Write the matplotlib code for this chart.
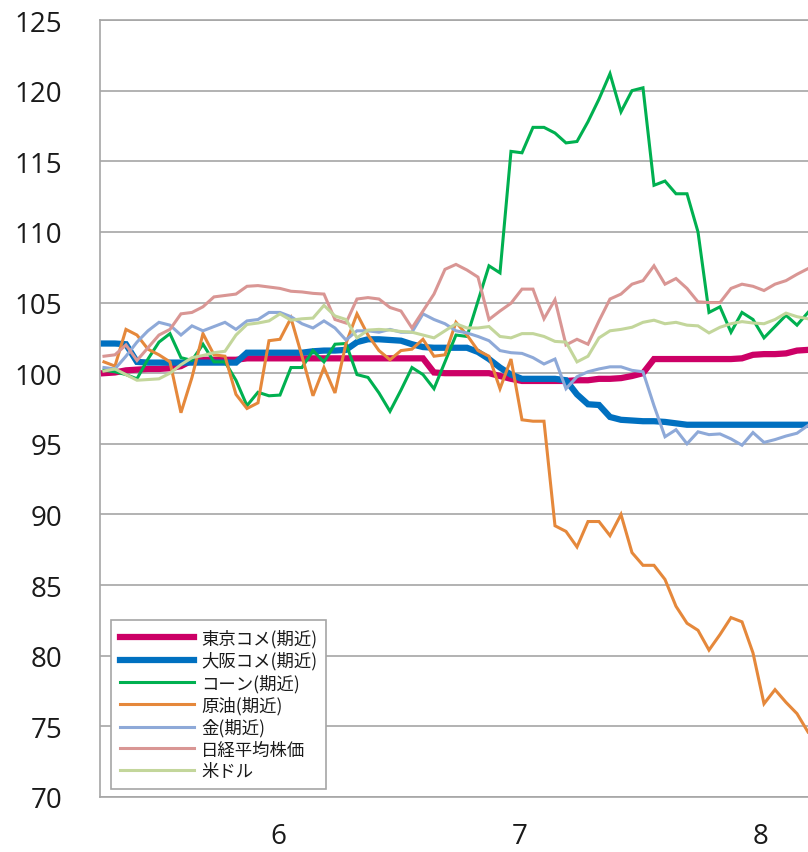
import numpy as np
import matplotlib
matplotlib.use("Agg")
import matplotlib.pyplot as plt

# index values (start = 100), one point per trading day
tokyo_rice = [100.0, 100.05, 100.2, 100.25, 100.3, 100.3, 100.35, 100.5, 100.9, 100.95,
              100.95, 100.95, 100.95, 101.05, 101.05, 101.05, 101.05, 101.05, 101.05, 101.05,
              101.05, 101.05, 101.05, 101.05, 101.05, 101.05, 101.05, 101.05, 101.05, 101.05,
              100.05, 100.0, 100.0, 100.0, 100.0, 100.0, 99.8, 99.6, 99.45, 99.45,
              99.45, 99.45, 99.45, 99.5, 99.5, 99.6, 99.6, 99.65, 99.8, 100.0,
              101.0, 101.0, 101.0, 101.0, 101.0, 101.0, 101.0, 101.0, 101.05, 101.3,
              101.35, 101.35, 101.4, 101.6, 101.65]
osaka_rice = [102.1, 102.1, 102.05, 100.8, 100.75, 100.75, 100.75, 100.75, 100.75, 100.75,
              100.75, 100.75, 100.75, 101.45, 101.45, 101.45, 101.45, 101.45, 101.45, 101.55,
              101.6, 101.6, 101.65, 102.2, 102.4, 102.4, 102.35, 102.3, 102.05, 101.85,
              101.8, 101.8, 101.8, 101.8, 101.5, 101.0, 100.4, 99.9, 99.6, 99.6,
              99.6, 99.6, 99.5, 98.5, 97.8, 97.75, 96.9, 96.7, 96.65, 96.6,
              96.6, 96.55, 96.45, 96.35, 96.35, 96.35, 96.35, 96.35, 96.35, 96.35,
              96.35, 96.35, 96.35, 96.35, 96.35]
corn = [100.2, 100.1, 99.9, 99.6, 101.0, 102.2, 102.8, 101.1, 100.9, 102.05,
        100.8, 100.8, 99.5, 97.7, 98.65, 98.4, 98.45, 100.4, 100.4, 101.6,
        100.8, 102.05, 102.1, 99.9, 99.7, 98.6, 97.3, 98.8, 100.4, 99.9,
        98.9, 100.8, 102.7, 102.6, 105.1, 107.6, 107.1, 115.7, 115.6, 117.4,
        117.4, 117.0, 116.3, 116.4, 117.8, 119.4, 121.2, 118.5, 120.0, 120.2,
        113.3, 113.6, 112.7, 112.7, 110.0, 104.3, 104.7, 102.9, 104.3, 103.8,
        102.5, 103.3, 104.1, 103.4, 104.3]
crude_oil = [100.8, 100.5, 103.1, 102.7, 101.7, 101.3, 100.8, 97.2, 99.7, 102.8,
             101.3, 101.2, 98.5, 97.5, 97.9, 102.3, 102.4, 103.9, 101.2, 98.4,
             100.4, 98.6, 102.1, 104.2, 102.7, 101.6, 100.95, 101.6, 101.7, 102.4,
             101.2, 101.3, 103.6, 102.7, 101.6, 101.2, 98.9, 101.0, 96.7, 96.6,
             96.6, 89.2, 88.8, 87.7, 89.5, 89.5, 88.5, 90.0, 87.3, 86.4,
             86.4, 85.4, 83.5, 82.3, 81.8, 80.4, 81.5, 82.7, 82.4, 80.2,
             76.6, 77.6, 76.7, 75.9, 74.6]
gold = [100.4, 100.3, 101.2, 102.2, 103.0, 103.6, 103.4, 102.7, 103.35, 103.0,
        103.3, 103.6, 103.1, 103.7, 103.8, 104.3, 104.3, 104.0, 103.5, 103.2,
        103.7, 103.2, 102.35, 103.0, 103.0, 102.9, 103.1, 102.9, 102.9, 104.2,
        103.8, 103.5, 103.0, 102.85, 102.6, 102.3, 101.6, 101.45, 101.4, 101.1,
        100.65, 101.0, 98.9, 99.75, 100.1, 100.3, 100.45, 100.45, 100.2, 100.1,
        97.7, 95.5, 96.0, 95.0, 95.85, 95.65, 95.7, 95.35, 94.9, 95.8,
        95.1, 95.3, 95.55, 95.75, 96.3]
nikkei = [101.2, 101.3, 102.0, 100.9, 101.8, 102.7, 103.1, 104.2, 104.3, 104.7,
          105.4, 105.5, 105.6, 106.15, 106.2, 106.1, 106.0, 105.8, 105.75, 105.65,
          105.6, 103.8, 103.55, 105.25, 105.35, 105.25, 104.65, 104.4, 103.2, 104.4,
          105.6, 107.35, 107.7, 107.3, 106.8, 103.8, 104.4, 104.95, 105.95, 105.95,
          103.85, 105.2, 102.0, 102.4, 102.05, 103.7, 105.25, 105.6, 106.3, 106.55,
          107.6, 106.3, 106.7, 106.0, 105.05, 105.0, 105.0, 106.0, 106.3, 106.15,
          105.85, 106.3, 106.55, 107.0, 107.4]
usd = [100.15, 100.3, 99.9, 99.5, 99.55, 99.6, 100.0, 100.6, 101.1, 101.25,
       101.45, 101.55, 102.7, 103.45, 103.55, 103.7, 104.2, 103.75, 103.85, 103.9,
       104.8, 104.05, 103.8, 102.5, 103.05, 103.1, 103.05, 102.95, 102.9, 102.7,
       102.5, 103.0, 103.5, 103.2, 103.2, 103.3, 102.6, 102.5, 102.8, 102.8,
       102.6, 102.25, 102.2, 100.8, 101.2, 102.5, 103.0, 103.1, 103.25, 103.6,
       103.75, 103.5, 103.6, 103.4, 103.35, 102.85, 103.25, 103.5, 103.65, 103.55,
       103.5, 103.8, 104.25, 104.0, 103.85]

labels = ['東京コメ(期近)', '大阪コメ(期近)', 'コーン(期近)', '原油(期近)',
          '金(期近)', '日経平均株価', '米ドル']
colors = ['#CC0066', '#0070C0', '#00B050', '#E5883B', '#8EA9D8', '#D99694', '#C3D69B']
widths = [4.5, 4.5, 2.2, 2.2, 2.2, 2.2, 2.2]

month_labels = ['6', '7', '8']
month_pos = [15.9, 37.8, 59.7]

series = [tokyo_rice, osaka_rice, corn, crude_oil, gold, nikkei, usd]

fig = plt.figure(figsize=(8.08, 8.53), dpi=100)
ax = fig.add_axes([100 / 808, 1 - 798 / 853, 708 / 808, 777 / 853])

for k, vals in enumerate(series):
    x = np.arange(len(vals))
    ax.plot(x, vals, color=colors[k], lw=widths[k], label=labels[k],
            solid_joinstyle='miter', zorder=3 + k)

ax.set_xlim(-0.36, 64.0)
ax.set_ylim(70, 125)
ax.set_yticks(np.arange(70, 126, 5))
ax.set_xticks(month_pos)
ax.set_xticklabels(month_labels)

grid_col = '#A6A6A6'
ax.yaxis.grid(True, color=grid_col, lw=1.2)
ax.set_axisbelow(True)
ax.spines['right'].set_visible(False)
for s in ['left', 'bottom', 'top']:
    ax.spines[s].set_color(grid_col)
    ax.spines[s].set_linewidth(1.2)

ax.tick_params(axis='both', length=0, labelsize=20, labelcolor='#1a1a1a')
ax.tick_params(axis='y', pad=27)
ax.tick_params(axis='x', pad=18)
for t in ax.get_xticklabels() + ax.get_yticklabels():
    t.set_fontfamily('Open Sans')

leg = ax.legend(loc='lower left', bbox_to_anchor=(111 / 808, 1 - 790 / 853),
                bbox_transform=fig.transFigure, borderaxespad=0,
                prop={'family': ['Noto Sans CJK JP', 'DejaVu Sans'], 'size': 12.5},
                handlelength=4.3, handletextpad=0.4, labelspacing=0.22,
                borderpad=0.5, fancybox=False, framealpha=1)
leg.get_frame().set_edgecolor(grid_col)
leg.get_frame().set_linewidth(1.2)
for t in leg.get_texts():
    t.set_color('#1a1a1a')

fig.savefig('out.png', dpi=100)
